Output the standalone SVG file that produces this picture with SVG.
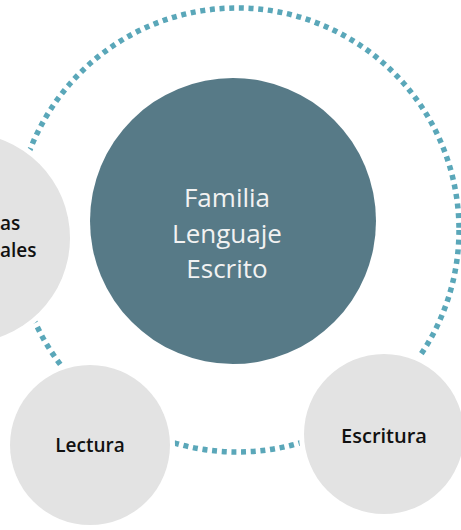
<svg xmlns="http://www.w3.org/2000/svg" width="461" height="530" viewBox="0 0 461 530">
  <style>
    .ring { fill: none; stroke: #5aa7b9; stroke-width: 5.5; stroke-dasharray: 5 4.7; }
    .sub { fill: #e3e3e3; stroke: #ffffff; stroke-width: 10; paint-order: stroke; }
    .main { fill: #577a87; }
    .lbl { font-family: "Open Sans", "Liberation Sans", sans-serif; font-size: 19px; font-weight: 600; fill: #111111; text-anchor: middle; }
    .mlbl { font-family: "Open Sans", "Liberation Sans", sans-serif; font-size: 26px; fill: #f2f2f2; text-anchor: middle; }
  </style>
  <rect width="461" height="530" fill="#ffffff"/>
  <g id="connectors">
    <circle class="ring" cx="237" cy="230" r="222"/>
  </g>
  <g id="node-main">
    <circle class="main" cx="233" cy="221" r="143"/>
    <text class="mlbl" x="227" y="207">Familia</text>
    <text class="mlbl" x="227" y="243">Lenguaje</text>
    <text class="mlbl" x="227" y="278">Escrito</text>
  </g>
  <g id="node-left">
    <circle class="sub" cx="-35" cy="238" r="105"/>
    <text class="lbl" x="0" y="230" style="text-anchor:start">as</text>
    <text class="lbl" x="0" y="257" style="text-anchor:start">ales</text>
  </g>
  <g id="node-lectura">
    <circle class="sub" cx="90" cy="445" r="80"/>
    <text class="lbl" x="90" y="452">Lectura</text>
  </g>
  <g id="node-escritura">
    <circle class="sub" cx="384" cy="434" r="80"/>
    <text class="lbl" x="384" y="443" style="font-size:20px">Escritura</text>
  </g>
</svg>
